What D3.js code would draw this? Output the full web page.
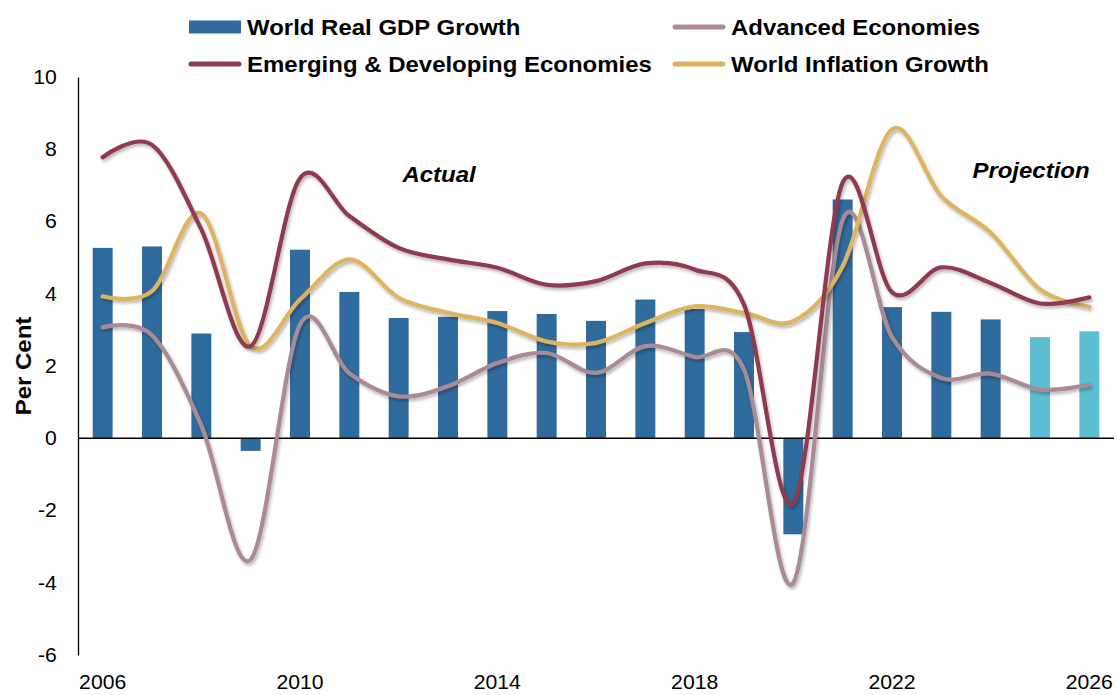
<!DOCTYPE html>
<html><head><meta charset="utf-8">
<script src="https://cdn.jsdelivr.net/npm/d3@7"></script>
<style>body{margin:0;background:#fff;} text{font-family:"Liberation Sans",Arial,sans-serif;}</style>
</head><body>
<svg id="chart" width="1117" height="695"></svg>
<script>
const years = [2006,2007,2008,2009,2010,2011,2012,2013,2014,2015,2016,2017,2018,2019,2020,2021,2022,2023,2024,2025,2026];
const worldGDP = [5.27,5.31,2.9,-0.35,5.22,4.05,3.33,3.36,3.52,3.44,3.25,3.84,3.58,2.94,-2.66,6.61,3.63,3.5,3.29,2.8,2.96];
const projectionYears = [2025,2026];
const emerging = [7.78,8.12,5.78,2.55,7.2,6.15,5.27,4.95,4.72,4.25,4.35,4.84,4.67,3.7,-1.79,7.08,4.04,4.73,4.3,3.73,3.9];
const advanced = [3.07,2.85,0.35,-3.36,3.15,1.8,1.16,1.44,2.08,2.36,1.81,2.55,2.25,1.9,-4.0,6.05,2.8,1.67,1.79,1.35,1.48];
const inflation = [3.93,4.07,6.22,2.55,3.84,4.95,3.89,3.47,3.19,2.68,2.64,3.19,3.65,3.47,3.24,4.76,8.55,6.7,5.69,4.12,3.64];
const yTicks = [-6,-4,-2,0,2,4,6,8,10];
const xTickYears = [2006,2010,2014,2018,2022,2026];

const C = {bar:"#306B9D", proj:"#5BBFD1", emerg:"#8E3A4F", adv:"#A98B96", infl:"#DDB45E"};
const SX = 1.09;
const TSX = 1.06;

const svg = d3.select("#chart");
const defs = svg.append("defs");
const f = defs.append("filter").attr("id","sh").attr("x","-5%").attr("y","-5%").attr("width","110%").attr("height","120%");
f.append("feDropShadow").attr("dx",1.5).attr("dy",2.5).attr("stdDeviation",1.5).attr("flood-color","#000").attr("flood-opacity",0.28);

const x = d3.scaleBand().domain(years).range([78,1114]).paddingInner(0.595).paddingOuter(0.2975);
const y = d3.scaleLinear().domain([-6,10]).range([655,77]);
const cx = d => x(d) + x.bandwidth()/2;

// bars
svg.append("g").selectAll("rect").data(years).join("rect")
  .attr("x", d => x(d))
  .attr("width", x.bandwidth())
  .attr("y", (d,i) => y(Math.max(0, worldGDP[i])))
  .attr("height", (d,i) => Math.abs(y(worldGDP[i]) - y(0)))
  .attr("fill", d => projectionYears.includes(d) ? C.proj : C.bar);

// zero line
svg.append("line").attr("x1",78).attr("x2",1114).attr("y1",y(0)).attr("y2",y(0)).attr("stroke","#000").attr("stroke-width",1.3);

// y axis
const ya = svg.append("g").attr("transform","translate(78,0)")
  .call(d3.axisLeft(y).tickValues(yTicks).tickSize(0).tickPadding(20).tickFormat(d => String(d)));
ya.select(".domain").attr("stroke","#000").attr("stroke-width",1.3);
ya.selectAll("text").attr("font-size",20).attr("fill","#000").attr("transform",`scale(${TSX},1)`)
  .style("font-family","Liberation Sans, Arial, sans-serif");

// x axis labels
const xa = svg.append("g").attr("transform","translate(0,655)")
  .call(d3.axisBottom(x).tickValues(xTickYears).tickSize(0).tickPadding(20));
xa.select(".domain").remove();
xa.selectAll("text").attr("font-size",20).attr("fill","#000").attr("transform",`scale(${TSX},1)`)
  .style("font-family","Liberation Sans, Arial, sans-serif");

// lines
const line = arr => d3.line().x(d => cx(d)).y((d,i) => y(arr[i])).curve(d3.curveCardinal.tension(0))(years);
const series = [[advanced,C.adv],[inflation,C.infl],[emerging,C.emerg]];
series.forEach(([arr,col]) => {
  svg.append("path").attr("d", line(arr)).attr("fill","none").attr("stroke",col)
    .attr("stroke-width",4.2).attr("stroke-linecap","round").attr("filter","url(#sh)");
});

// helper for stretched text
function label(tx, ty, str, opts) {
  const g = svg.append("g").attr("transform", `translate(${tx},${ty})` + (opts.rotate ? ` rotate(${opts.rotate})` : ""));
  return g.append("text").attr("transform", `scale(${SX},1)`)
    .attr("text-anchor", opts.anchor || "start")
    .attr("font-size", opts.size || 22)
    .attr("font-weight", "bold")
    .attr("font-style", opts.italic ? "italic" : "normal")
    .text(str);
}

// annotations
label(439, 182, "Actual", {anchor:"middle", italic:true});
label(1031, 178, "Projection", {anchor:"middle", italic:true});

// y title
label(31, 366, "Per Cent", {anchor:"middle", rotate:-90, size:22});

// legend
const legend = [
  {label:"World Real GDP Growth", col:C.bar, type:"rect", x:189, y:27},
  {label:"Advanced Economies", col:C.adv, type:"line", x:673, y:27},
  {label:"Emerging & Developing Economies", col:C.emerg, type:"line", x:189, y:64},
  {label:"World Inflation Growth", col:C.infl, type:"line", x:673, y:64}
];
legend.forEach(l => {
  if (l.type === "rect") {
    svg.append("rect").attr("x",l.x).attr("y",l.y-6.5).attr("width",52).attr("height",13).attr("fill",l.col);
  } else {
    svg.append("line").attr("x1",l.x+2).attr("x2",l.x+50).attr("y1",l.y).attr("y2",l.y)
      .attr("stroke",l.col).attr("stroke-width",5).attr("stroke-linecap","round");
  }
  label(l.x + 58, l.y + 8, l.label, {size:22});
});
</script>
</body></html>
